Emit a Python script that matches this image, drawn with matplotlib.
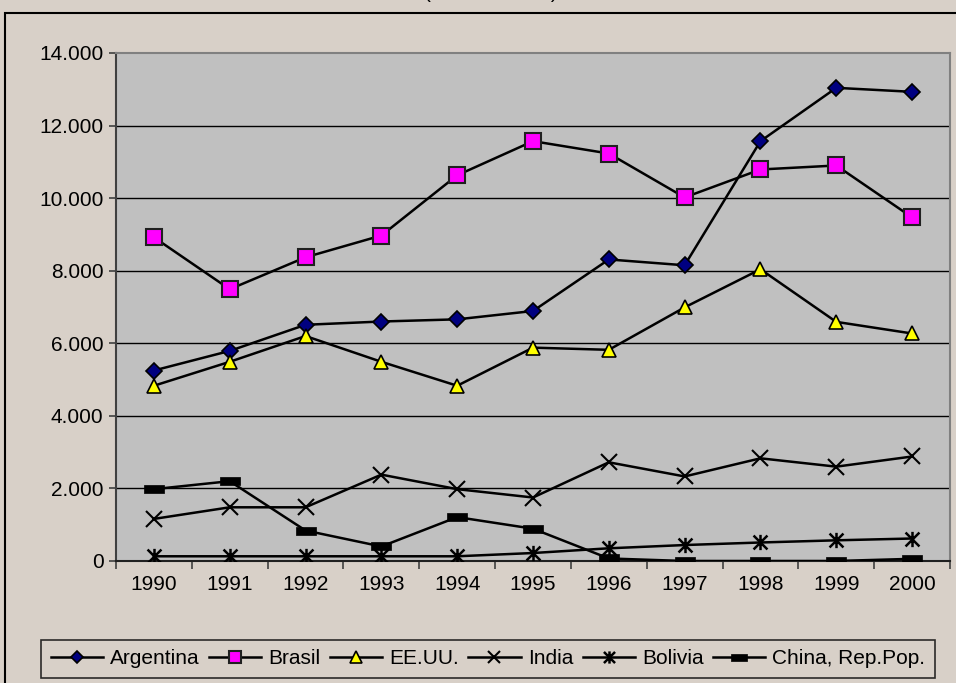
import matplotlib
matplotlib.use("Agg")
import matplotlib.pyplot as plt
from matplotlib.patches import Rectangle
from matplotlib.path import Path
from matplotlib.ticker import FuncFormatter, FixedLocator
import numpy as np

years = ["1990", "1991", "1992", "1993", "1994", "1995", "1996", "1997", "1998", "1999", "2000"]
argentina = [5250, 5790, 6510, 6600, 6660, 6890, 8310, 8150, 11570, 13040, 12930]
brasil = [8920, 7490, 8370, 8970, 10630, 11570, 11230, 10020, 10790, 10900, 9470]
eeuu = [4830, 5490, 6200, 5490, 4830, 5880, 5820, 6990, 8040, 6590, 6270]
india = [1160, 1480, 1480, 2380, 1980, 1750, 2720, 2330, 2830, 2600, 2880]
bolivia = [130, 130, 130, 130, 130, 220, 350, 440, 510, 570, 620]
china = [1980, 2200, 840, 400, 1210, 890, 70, 0, 0, 0, 60]
yticks = [0, 2000, 4000, 6000, 8000, 10000, 12000, 14000]

plt.rcParams['font.family'] = ['Liberation Sans', 'DejaVu Sans']

W, H = 956, 683
fig = plt.figure(figsize=(W / 100, H / 100), dpi=100)
bg = "#D8D0C8"
fig.patch.set_facecolor(bg)

# outer chart frame
fig.patches.append(Rectangle((5 / W, -0.01), 1.0, 1 - 13 / H + 0.01, transform=fig.transFigure,
                             fill=False, edgecolor="black", linewidth=1.5))
# clipped title (cut off at top, as in the reference)
fig.text(491 / W, 1 + 1.5 / H, "(en toneladas)", ha="center", va="baseline", fontsize=15)

ax = fig.add_axes([116 / W, (H - 561) / H, (950 - 116) / W, (561 - 53) / H])
ax.set_facecolor("#C0C0C0")

x = np.arange(len(years))
ax.set_xlim(-0.5, len(years) - 0.5)
ax.set_ylim(0, 14000)

ax.set_yticks(yticks)
ax.yaxis.set_major_formatter(FuncFormatter(lambda v, p: f"{int(v):,}".replace(",", ".")))
for v in yticks[1:-1]:
    ax.axhline(v, color="black", linewidth=1.0, zorder=1)

ax.set_xticks(x)
ax.set_xticklabels(years)
ax.xaxis.set_minor_locator(FixedLocator(np.arange(-0.5, len(years), 1.0)))
ax.tick_params(axis="x", which="major", length=0, pad=10, labelsize=15)
ax.tick_params(axis="x", which="minor", length=6, width=1.2, direction="out", color="#404040")
ax.tick_params(axis="y", length=5, width=1.2, direction="out", labelsize=15, pad=4, color="#404040")

for s in ["top", "right"]:
    ax.spines[s].set_color("#808080")
    ax.spines[s].set_linewidth(1.5)
ax.spines["left"].set_color("#404040")
ax.spines["left"].set_linewidth(1.5)
ax.spines["bottom"].set_color("#202020")
ax.spines["bottom"].set_linewidth(1.5)

bar_marker = [(-1, -0.45), (1, -0.45), (1, 0.45), (-1, 0.45), (-1, -0.45)]
star_marker = Path([(-1, -1), (1, 1), (-1, 1), (1, -1), (0, -1.1), (0, 1.1)],
                   [Path.MOVETO, Path.LINETO, Path.MOVETO, Path.LINETO, Path.MOVETO, Path.LINETO])

lw = 1.8
ax.plot(x, argentina, color="black", lw=lw, marker="D", ms=8, mfc="#000080", mec="black", mew=1.2,
        label="Argentina", zorder=5)
ax.plot(x, brasil, color="black", lw=lw, marker="s", ms=11, mfc="#FF00FF", mec="#202020", mew=1.5,
        label="Brasil", zorder=5)
ax.plot(x, eeuu, color="black", lw=lw, marker="^", ms=10, mfc="#FFFF00", mec="black", mew=1.2,
        label="EE.UU.", zorder=5)
ax.plot(x, india, color="black", lw=lw, marker="x", ms=11, mec="black", mew=1.5,
        label="India", zorder=5)
ax.plot(x, bolivia, color="black", lw=lw, marker=star_marker, ms=11, mfc="none", mec="black", mew=1.8,
        label="Bolivia", zorder=5)
ax.plot(x, china, color="black", lw=lw, marker=bar_marker, ms=14, mfc="black", mec="black", mew=0.5,
        label="China, Rep.Pop.", zorder=5)

leg = fig.legend(loc="center", bbox_to_anchor=(488 / W, 1 - 659 / H), ncol=6, frameon=True,
                 fontsize=15, handlelength=2.5, handletextpad=0.35, columnspacing=0.45,
                 borderpad=0.45, borderaxespad=0, fancybox=False, edgecolor="black",
                 facecolor=bg, markerscale=0.8)
leg.get_frame().set_linewidth(1.2)

fig.savefig("out.png", dpi=100, facecolor=bg)
